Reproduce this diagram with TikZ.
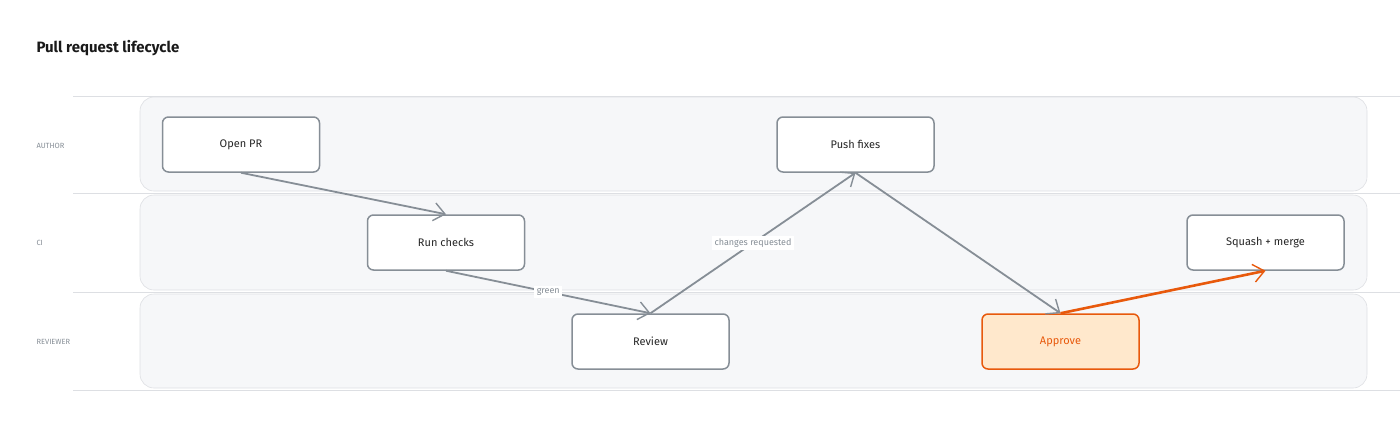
\documentclass[tikz,border=0pt]{standalone}
\usepackage{fontspec}
\setmainfont{Fira Sans}
\usetikzlibrary{arrows.meta}
\definecolor{lanefill}{HTML}{F6F7F9}
\definecolor{laneline}{HTML}{DDDFE3}
\definecolor{boxline}{HTML}{868E96}
\definecolor{org}{HTML}{E8590C}
\definecolor{orgfill}{HTML}{FFE8CC}
\begin{document}
\begin{tikzpicture}[x=1pt,y=-1pt,
 lane/.style={fill=lanefill,draw=laneline,rounded corners=14pt,line width=0.6pt},
 lbl/.style={font=\fontsize{7.5}{9}\selectfont,text=boxline,anchor=west},
 box/.style={draw=boxline,line width=1.5pt,fill=white,rounded corners=6pt,minimum width=157pt,minimum height=55pt,font=\fontsize{11}{13}\selectfont,text=black!85},
 arr/.style={draw=boxline,line width=1.8pt,-{Straight Barb[length=11pt,width=18pt,line width=1.4pt]}},
 elbl/.style={fill=white,font=\fontsize{9}{11}\selectfont,text=boxline,inner sep=2.5pt}]
\useasboundingbox (0,0) rectangle (1400,424);
\node[anchor=west,font=\fontsize{15}{17}\selectfont\bfseries,text=black!90] (title) at (33,48) {Pull request lifecycle};
\foreach \a/\b in {97/191,195/290,294/388}{\path[lane] (140,\a) rectangle (1367,\b);}
\foreach \y in {96,193,292,390}{\draw[laneline,line width=1pt] (73,\y) -- (1400,\y);}
\node[lbl] (l1) at (33,146) {AUTHOR};
\node[lbl] (l2) at (33,243) {CI};
\node[lbl] (l3) at (33,342) {REVIEWER};
\node[box] (open) at (241,144.5) {Open PR};
\node[box] (run) at (446,242.5) {Run checks};
\node[box] (rev) at (650.5,341.5) {Review};
\node[box] (push) at (855.5,144.5) {Push fixes};
\node[box] (sq) at (1265.5,242.5) {Squash + merge};
\node[box,draw=org,fill=orgfill,text=org] (app) at (1060.5,341.5) {Approve};
\draw[arr] (open.south) -- (run.north);
\draw[arr] (run.south) -- node[elbl,pos=0.5] {green} (rev.north);
\draw[arr] (rev.north) -- node[elbl,pos=0.5] {changes requested} (push.south);
\draw[arr] (push.south) -- (app.north);
\draw[arr,draw=org,line width=2.6pt] (app.north) -- (sq.south);
\end{tikzpicture}
\end{document}
